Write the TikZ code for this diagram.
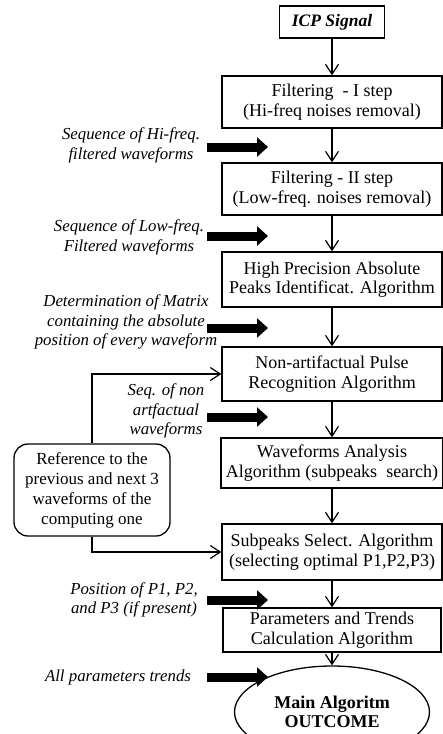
\documentclass[tikz,border=0pt]{standalone}
\usepackage{fontspec}
\setmainfont{Liberation Serif}
\usetikzlibrary{arrows.meta, positioning, shapes.geometric}

\tikzset{
  procbox/.style={draw, line width=1.3pt, align=center, inner sep=0pt,
    minimum width=220, font=\fontsize{18}{19.5}\selectfont},
  note/.style={align=center, inner sep=0pt, font=\fontsize{16.8}{19.5}\selectfont\itshape},
  flow/.style={line width=1.2pt, -{Straight Barb[length=10pt,width=13pt,line width=1.2pt]}},
  fatarrow/.style={line width=9pt, -{Triangle[length=11pt,width=19pt]}}
}

\begin{document}
\begin{tikzpicture}[x=1pt,y=-1pt]
  \path[use as bounding box] (0,0) rectangle (443,734);
  % main chain
  \node[procbox, minimum width=105, minimum height=32, font=\fontsize{17.5}{19}\selectfont\bfseries\itshape] (icp) at (332,22) {ICP Signal};
  \node[procbox, minimum height=52] (filt1) at (332,102) {Filtering\ \ - I step\\(Hi-freq noises removal)};
  \node[procbox, minimum height=52] (filt2) at (332,189) {Filtering - II step\\ (Low-freq. noises removal)};
  \node[procbox, minimum height=55] (peaks) at (332,279.5) {High Precision Absolute\\Peaks Identificat. Algorithm};
  \node[procbox, minimum height=54] (pulse) at (332,374) {Non-artifactual Pulse\\Recognition Algorithm};
  \node[procbox, minimum width=222, minimum height=50] (wave) at (332,463) {Waveforms Analysis\\Algorithm (subpeaks\ \ search)};
  \node[procbox, minimum height=56] (subp) at (332,552) {Subpeaks Select. Algorithm\\(selecting optimal P1,P2,P3)};
  \node[procbox, minimum width=218, minimum height=44] (param) at (332,630) {Parameters and Trends\\Calculation Algorithm};
  \node[draw, ellipse, line width=1.3pt, minimum width=195, minimum height=92, inner sep=0pt, align=center,
    font=\fontsize{18}{18.5}\selectfont\bfseries] (outc) at (332,712) {Main Algoritm\\OUTCOME};
  \foreach \a/\b in {icp/filt1, filt1/filt2, filt2/peaks, peaks/pulse, pulse/wave, wave/subp, subp/param, param/outc}
    \draw[flow] (\a) -- (\b);

  % reference loop
  \node[draw, line width=1.3pt, rounded corners=14pt, minimum width=156, minimum height=92, inner sep=0pt,
    align=center, font=\fontsize{17}{20}\selectfont] (refer) at (92,490)
    {Reference to the\\previous and next 3\\waveforms of the\\computing one};
  \draw[flow] (refer.north) |- (pulse.west);
  \draw[flow] (refer.south) |- (subp.west);

  % side notes
  \node[note] (n1) at (131,145.5) {Sequence of Hi-freq.\\filtered waveforms};
  \node[note] (n2) at (129,237.5) {Sequence of Low-freq.\\Filtered waveforms};
  \node[note] (n3) at (126,322) {Determination of Matrix\\containing the absolute\\position of every waveform};
  \node[note] (n4) at (166,411) {Seq. of non\\artfactual\\waveforms};
  \node[note] (n5) at (134,600) {Position of P1, P2,\\and P3 (if present)};
  \node[note] (n6) at (118,677) {All parameters trends};
  \foreach \y in {147,236,328,417,600,677}
    \draw[fatarrow] (207,\y) -- (268,\y);
\end{tikzpicture}
\end{document}
